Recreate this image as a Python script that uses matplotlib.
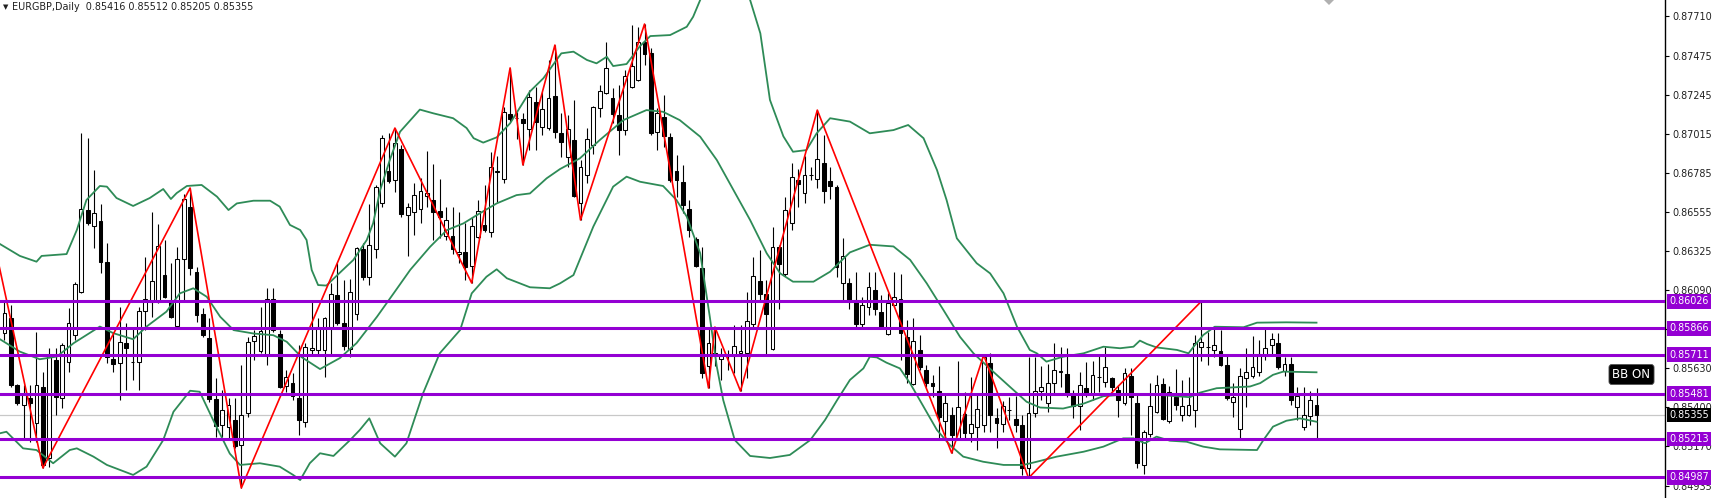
import numpy as np
import matplotlib
matplotlib.use("Agg")
import matplotlib.pyplot as plt
from matplotlib.patches import Polygon
import matplotlib.transforms as mtransforms

# ---------------- data (prices x 1e5) ----------------
open_pts = [85839,85928,85532,85414,85455,85308,85520,85101,85680,85455,85668,85827,86081,86565,86471,86500,86258,85686,85662,85780,
            85666,85668,85969,86022,86022,86181,86022,85880,86276,86583,86199,85951,85809,85449,85296,85284,85325,85178,85367,85792,
            85733,85709,86040,85833,85526,85543,85455,85314,85739,85739,85739,85874,86063,85898,85744,85951,86335,86170,86335,86606,
            86795,86742,86925,86535,86553,86571,86648,86624,86559,86412,86412,86305,86317,86235,86406,86477,86435,86789,86748,87132,
            87106,87102,87043,87203,87055,87049,87238,87020,86878,86978,86606,86772,86949,87167,87256,87226,87126,87037,87291,87333,
            87557,87492,87026,87114,86996,86795,86730,86571,86394,86223,85644,85721,85686,85707,85703,85721,85721,85892,86146,86069,
            85744,86347,86187,86488,86742,86665,86770,86748,86842,86736,86701,86134,86134,86034,85892,85993,86093,85963,85833,86004,
            86040,85815,85538,85739,85620,85543,85496,85319,85355,85219,85361,85249,85284,85296,85662,85337,85302,85382,85331,85296,
            85042,85367,85496,85426,85543,85606,85597,85479,85408,85514,85479,85577,85550,85573,85502,85426,85585,85426,85060,85243,
            85373,85538,85319,85461,85355,85355,85384,85756,85754,85739,85733,85650,85432,85272,85573,85585,85609,85709,85768,85780,
            85614,85656,85402,85284,85349,85416]
high_pts = [86034,86004,85540,85532,85532,85845,85609,85750,85750,85780,85987,86140,87020,86990,86801,86601,86370,85839,85993,85898,
            85874,85993,86288,86553,86483,86388,86252,86347,86660,86695,86229,85987,85928,85573,85502,85455,85455,85650,85815,85857,
            85993,86105,86105,85857,85620,85603,85768,85780,86022,85928,85933,86134,86252,86152,86158,86347,86370,86601,86713,87008,
            87020,87049,86949,86606,86724,86754,86914,86835,86748,86583,86583,86553,86488,86524,86624,86713,86908,86884,87173,87404,
            87144,87138,87274,87291,87262,87451,87539,87138,87126,87215,86860,87049,87179,87303,87557,87285,87303,87392,87657,87646,
            87663,87522,87167,87244,87020,86890,86831,86624,86406,86347,85874,85874,85750,85739,85886,85886,86081,86288,86329,86152,
            86465,86359,86642,86842,86807,86884,86819,87155,87008,86819,86713,86400,86164,86199,86052,86199,86199,86063,86075,86199,
            86187,85915,85928,85827,85650,85591,85644,85479,85402,85674,85490,85579,85473,85709,85721,85396,85437,85461,85467,85355,
            85697,85697,85644,85656,85780,85756,85750,85502,85609,85668,85674,85703,85756,85579,85532,85632,85632,85473,85266,85543,
            85591,85573,85526,85626,85562,85579,85827,86026,85845,85880,85857,85703,85543,85632,85750,85821,85798,85862,85839,85839,
            85697,85697,85520,85520,85496,85512]
low_pts = [85798,85520,85414,85207,85195,85195,85042,85048,85355,85396,85609,85798,86075,86477,86341,86193,85662,85609,85443,85502,
           85562,85502,85857,85933,86016,86046,85928,85874,86034,86181,85904,85815,85432,85225,85225,85207,85160,84924,85343,85680,
           85721,85650,85845,85514,85490,85443,85237,85284,85703,85709,85579,85703,85886,85739,85697,85915,86152,86122,86283,86583,
           86724,86671,86524,86294,86418,86488,86583,86388,86400,86388,86305,86252,86152,86134,86400,86435,86406,86612,86724,87085,
           86984,86831,86919,86919,87008,87037,86990,86878,86819,86642,86506,86724,86895,87114,87250,87079,86890,87008,87285,87327,
           87421,87008,86919,86937,86730,86642,86547,86406,86229,85573,85514,85644,85562,85620,85603,85496,85573,85868,86034,85709,
           85739,85981,86175,86447,86583,86606,86742,86695,86606,86630,86170,86022,85981,85868,85868,85945,85945,85862,85827,85993,
           85680,85543,85532,85620,85520,85461,85219,85219,85130,85213,85213,85195,85148,85254,85254,85160,85254,85325,85254,85001,
           84983,85343,85443,85373,85473,85520,85461,85337,85266,85461,85443,85490,85520,85490,85343,85414,85237,85042,85007,85225,
           85367,85325,85308,85384,85319,85349,85284,85674,85650,85697,85644,85443,85343,85219,85402,85573,85585,85680,85709,85626,
           85585,85414,85325,85266,85296,85205]
close_pts = [85957,85532,85426,85473,85426,85532,85060,85697,85461,85768,85898,86128,86571,86488,86547,86258,85697,85656,85786,85750,
             85670,85969,86040,86146,86353,86052,85933,86276,86630,86223,85945,85827,85449,85290,85384,85414,85172,85355,85786,85821,
             85851,86040,85857,85520,85579,85467,85325,85756,85750,85874,85928,86069,85898,85762,86081,86341,86170,86359,86701,86990,
             86736,86961,86541,86583,86654,86677,86665,86553,86524,86506,86335,86317,86229,86471,86559,86447,86819,86795,87144,87102,
             87110,87079,87232,87085,87161,87226,87026,86967,87043,86648,86819,86984,87173,87268,87404,87132,87037,87356,87415,87557,
             87486,87020,87138,87002,86742,86742,86595,86447,86235,85603,85780,85715,85703,85711,85762,85733,85910,86175,86069,85951,
             86347,86246,86565,86760,86718,86772,86774,86866,86677,86707,86229,86294,86022,85892,86004,86110,85981,85874,86016,86052,
             85839,85597,85792,85638,85543,85526,85343,85426,85237,85402,85249,85302,85390,85697,85355,85308,85408,85386,85296,85042,
             85367,85496,85520,85543,85620,85612,85479,85408,85532,85479,85591,85581,85638,85520,85443,85603,85461,85072,85254,85408,
             85532,85331,85490,85414,85408,85414,85780,85786,85758,85768,85650,85455,85461,85585,85609,85638,85715,85750,85804,85638,
             85656,85443,85467,85355,85443,85355]

# Bollinger band lines: (bar position, price x 1e5)
bb_upper_x = [-0.7,2.4,5.0,5.8,9.7,11.3,12.8,14.9,16.0,17.5,20.1,22.7,24.8,26.0,26.9,28.5,30.8,33.2,35.0,36.3,38.9,41.5,43.0,44.6,
              46.2,47.2,48.0,49.0,50.3,52.4,54.5,56.6,57.6,58.7,60.2,61.8,64.9,67.0,70.1,72.2,73.3,74.8,76.9,79.0,82.1,84.2,87.0,
              88.9,91.0,92.5,94.1,95.1,97.2,99.3,100.9,104.0,106.6,107.6,108.7,110.5,112.6,114.7,116.5,118.1,119.6,121.7,123.2,
              125.3,126.9,129.0,132.1,135.2,138.9,141.2,143.6,145.7,147.2,148.8,151.9,154.0,156.1,158.2,160.2,161.3,162.8,165.4,
              168.6,171.7,174.3,176.4,177.4,178.5,180.0,183.2,185.0,185.8,187.3,189.1,193.6,195.7,200.3,205.0]
bb_upper_p = [86364,86294,86260,86294,86305,86447,86624,86707,86703,86636,86589,86636,86689,86630,86665,86707,86713,86644,86565,
              86604,86620,86620,86585,86477,86447,86388,86211,86122,86119,86195,86270,86388,86487,86683,86860,87027,87158,87136,
              87107,87049,86989,86963,86994,87077,87265,87343,87490,87500,87451,87431,87470,87415,87427,87533,87592,87598,87647,
              87706,87805,87920,87980,87930,87805,87608,87215,87000,86909,86919,87018,87107,87087,87018,87037,87067,86989,86801,
              86624,86398,86251,86191,86073,85876,85739,85719,85670,85699,85719,85758,85749,85758,85794,85774,85754,85739,85719,
              85758,85827,85876,85873,85900,85902,85900]
bb_mid_x = [-0.7,2.4,5.5,8.2,10.8,14.9,17.0,20.1,22.2,25.3,27.4,29.5,31.6,33.7,35.8,38.9,42.0,44.1,46.4,49.3,52.4,55.0,58.2,60.8,
            63.4,66.5,69.1,71.7,73.8,76.9,80.0,82.1,84.7,86.8,89.9,93.0,96.7,100.3,102.9,105.5,108.7,111.3,113.9,116.5,119.1,
            121.2,123.2,126.4,129.0,132.1,135.2,138.9,141.5,144.1,146.7,149.3,151.4,154.5,157.1,159.7,161.8,165.4,168.6,171.7,
            174.8,180.5,185.2,186.8,189.4,194.6,196.2,198.2,199.8,205.0]
bb_mid_p = [85802,85729,85684,85700,85779,85877,85838,85802,85877,85965,86073,86103,86053,85935,85856,85836,85826,85787,85697,85626,
            85691,85779,85935,86073,86212,86348,86446,86486,86535,86604,86653,86663,86752,86807,86870,86978,87096,87155,87145,87096,
            86998,86860,86683,86506,86309,86191,86142,86142,86201,86315,86360,86350,86271,86132,85975,85816,85719,85610,85521,85433,
            85399,85393,85422,85466,85475,85473,85460,85487,85513,85523,85543,85592,85611,85607]
bb_lower_x = [-0.7,0.3,2.9,5.0,7.6,10.2,11.3,13.9,16.0,20.1,22.2,24.8,26.4,29.0,30.5,32.6,35.2,36.8,39.9,43.0,45.1,46.2,47.7,49.3,
              51.4,54.0,55.5,57.0,58.7,61.0,62.8,65.4,68.0,71.2,73.0,75.3,76.9,78.5,82.1,85.2,86.8,88.9,92.0,95.1,97.2,99.3,102.9,
              105.0,106.6,108.7,110.2,111.3,112.3,114.1,116.5,119.6,122.7,125.9,128.2,130.1,132.1,134.2,135.2,136.3,137.8,139.9,
              141.5,143.6,145.7,147.7,149.8,152.9,156.1,159.2,161.3,164.4,168.6,171.7,174.8,176.4,178.2,180.0,182.1,184.7,187.3,
              189.9,195.7,196.7,198.2,200.3,202.4,205.0]
bb_lower_p = [85247,85256,85158,85148,85070,85148,85158,85109,85060,85001,85050,85207,85374,85498,85492,85325,85127,85060,85070,
              85050,85001,84971,85070,85129,85113,85207,85266,85335,85188,85109,85188,85483,85719,85857,86073,86171,86215,86162,
              86109,86103,86132,86181,86467,86703,86762,86732,86707,86624,86526,86310,85935,85640,85443,85207,85113,85101,85119,
              85207,85325,85443,85562,85630,85699,85695,85664,85630,85542,85404,85266,85178,85109,85079,85060,85060,85079,85109,
              85138,85168,85217,85217,85188,85227,85203,85197,85168,85152,85148,85207,85286,85321,85335,85315]

# ZigZag pivots: bar index and whether it is a high or a low
zz_start = (-3.0, 0.86612)
zz_bars = [6, 29, 37, 61, 73, 79, 81, 86, 90, 100, 110, 111, 115, 127, 148, 153, 160, 187]
zz_kind = "LHLHLHLHLHLHLHLHLH"

levels = [0.86026, 0.85866, 0.85711, 0.85481, 0.85213, 0.84987]
tick_prices = [0.87710, 0.87475, 0.87245, 0.87015, 0.86785, 0.86555, 0.86325, 0.86090, 0.85860,
               0.85630, 0.85400, 0.85170, 0.84935]
last_price = 0.85355
header = "EURGBP,Daily  0.85416 0.85512 0.85205 0.85355"

# ---------------- drawing ----------------
plt.rcParams['font.family'] = ['DejaVu Sans']
W, H = 1715, 498
fig = plt.figure(figsize=(W / 100, H / 100), dpi=100)
fig.patch.set_facecolor('white')
ax = fig.add_axes([0, 0, 1665 / W, 1])
ax.set_facecolor('white')

o = np.array(open_pts) / 1e5
h = np.array(high_pts) / 1e5
l = np.array(low_pts) / 1e5
c = np.array(close_pts) / 1e5
idx = np.arange(len(o))

ax.set_xlim(-0.703, 259.45)
ax.set_ylim(0.848648, 0.87805)

# current price line
ax.axhline(last_price, color='#c8c8c8', lw=0.9, zorder=1)

# candles
ax.vlines(idx, l, h, color='black', lw=0.8, zorder=2)
up = c >= o
body_h = np.maximum(np.abs(c - o), 0.000008)
ax.bar(idx, body_h, bottom=np.minimum(o, c), width=0.58,
       color=np.where(up, 'white', 'black'), edgecolor='black', linewidth=0.75, zorder=3)

# Bollinger bands
green = '#2E8B57'
ax.plot(bb_upper_x, np.array(bb_upper_p) / 1e5, color=green, lw=1.3, zorder=4)
ax.plot(bb_mid_x, np.array(bb_mid_p) / 1e5, color=green, lw=1.3, zorder=4)
ax.plot(bb_lower_x, np.array(bb_lower_p) / 1e5, color=green, lw=1.3, zorder=4)

# zigzag
zx = [zz_start[0]] + zz_bars
zy = [zz_start[1]] + [h[b] if k == 'H' else l[b] for b, k in zip(zz_bars, zz_kind)]
ax.plot(zx, zy, color='#ff0000', lw=1.2, zorder=5)

# horizontal levels
purple = '#9400D3'
for lv in levels:
    ax.axhline(lv, color=purple, lw=2.2, zorder=6)

# axes styling
for s in ['left', 'top', 'bottom']:
    ax.spines[s].set_visible(False)
ax.spines['right'].set_color('black')
ax.spines['right'].set_linewidth(1.0)
ax.set_xticks([])
ax.yaxis.tick_right()
ax.set_yticks(tick_prices)
ax.set_yticklabels([f"{t:.5f}" for t in tick_prices])
ax.tick_params(axis='y', direction='out', length=3, width=0.8, pad=2,
               labelsize=6.9, labelcolor='#202020', color='black')

trans = mtransforms.blended_transform_factory(ax.transAxes, ax.transData)
lab_x = 1 + 4 / 1665
for lv in levels:
    ax.text(lab_x, lv, f"{lv:.5f}", transform=trans, ha='left', va='center', fontsize=6.9,
            color='white', clip_on=False, zorder=20,
            bbox=dict(boxstyle='square,pad=0.25', fc=purple, ec='none'))
ax.text(lab_x, last_price, f"{last_price:.5f}", transform=trans, ha='left', va='center', fontsize=6.9,
        color='white', clip_on=False, zorder=20,
        bbox=dict(boxstyle='square,pad=0.25', fc='black', ec='none'))

# header
fig.text(3 / W, 1 - 7.5 / H, "\u25BC", fontsize=5, va='center', ha='left', color='#202020')
fig.text(12 / W, 1 - 7.5 / H, header, fontsize=6.9, va='center', ha='left', color='#202020')

# BB ON label
fig.text(1631.5 / W, 1 - 374.5 / H, "BB ON", fontsize=8.5, va='center', ha='center', color='white',
         bbox=dict(boxstyle='round,pad=0.3,rounding_size=0.25', fc='black', ec='#555555', lw=0.6))

# chart shift marker
tri = Polygon([[1324 / W, 1.0], [1334 / W, 1.0], [1329 / W, 1 - 5 / H]], closed=True,
              transform=fig.transFigure, fc='#b0b0b0', ec='none')
fig.patches.append(tri)

fig.savefig('out.png', dpi=100, facecolor='white')
